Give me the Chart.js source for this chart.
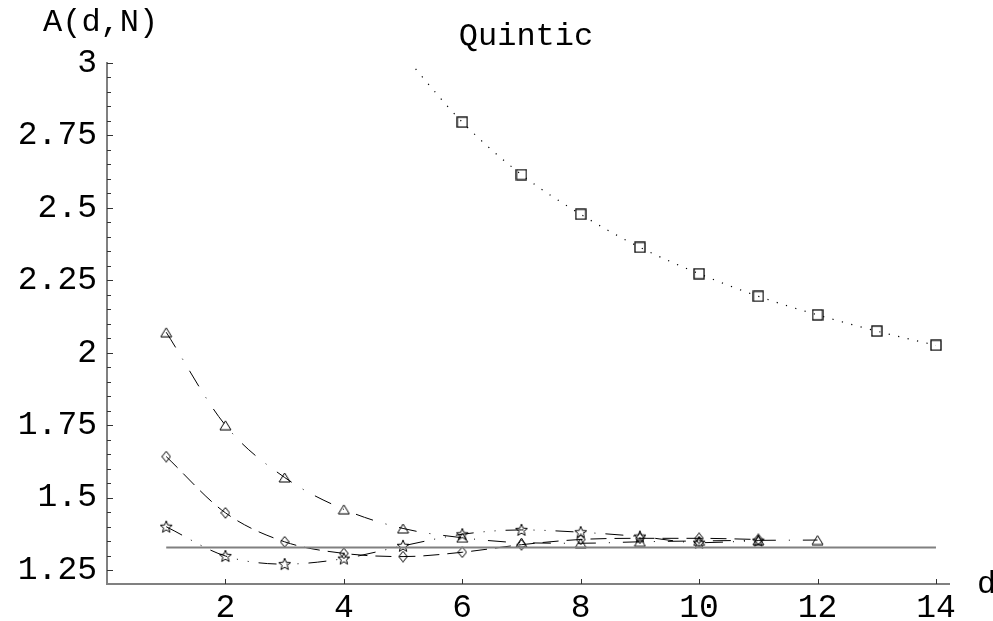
<!DOCTYPE html>
<html>
<head>
<meta charset="utf-8">
<script src="https://cdn.jsdelivr.net/npm/chart.js@4/dist/chart.umd.min.js"></script>
<style>
  html, body { margin: 0; padding: 0; background: #fff; }
  #wrap { width: 993px; height: 621px; }
</style>
</head>
<body>
<div id="wrap"><canvas id="c" width="993" height="621"></canvas></div>
<script>
// ---------------- data ----------------
const title = "Quintic";
const yAxisLabel = "A(d,N)";
const xAxisLabel = "d";

const triangleD = [1, 2, 3, 4, 5, 6, 7, 8, 9, 10, 11, 12];
const triangleA = [2.071, 1.750, 1.570, 1.460, 1.394, 1.362, 1.345, 1.343, 1.348, 1.351, 1.353, 1.354];

const diamondD = [1, 2, 3, 4, 5, 6, 7, 8, 9, 10, 11];
const diamondA = [1.642, 1.448, 1.348, 1.308, 1.297, 1.312, 1.338, 1.356, 1.360, 1.360, 1.356];

const starD = [1, 2, 3, 4, 5, 6, 7, 8, 9, 10, 11];
const starA = [1.400, 1.299, 1.271, 1.290, 1.334, 1.374, 1.389, 1.381, 1.366, 1.345, 1.352];

// first entry (d=5) is where the dotted fit curve leaves the top of the frame (no marker)
const squareD = [5, 6, 7, 8, 9, 10, 11, 12, 13, 14];
const squareA = [3.03, 2.796, 2.615, 2.478, 2.364, 2.273, 2.195, 2.131, 2.075, 2.026];

const limitD = [1, 14];
const limitA = [1.328, 1.328];

const xTickValues = [2, 4, 6, 8, 10, 12, 14];
const yTickValues = [1.25, 1.5, 1.75, 2, 2.25, 2.5, 2.75, 3];
const yTickLabels = ["1.25", "1.5", "1.75", "2", "2.25", "2.5", "2.75", "3"];
const yMinorStep = 0.05;
const xRange = [0, 14.22];
const yRange = [1.2024, 3];

// ---------------- markers ----------------
function marker(kind) {
  const c = document.createElement('canvas');
  const g = c.getContext('2d');
  g.strokeStyle = '#000';
  g.lineWidth = 1.1;
  if (kind === 'tri') {
    c.width = 13; c.height = 11;
    g.beginPath(); g.moveTo(6.5, 1); g.lineTo(12, 10); g.lineTo(1, 10); g.closePath(); g.stroke();
  } else if (kind === 'dia') {
    c.width = 10; c.height = 12;
    g.beginPath(); g.moveTo(5, 0.7); g.lineTo(9.3, 6); g.lineTo(5, 11.3); g.lineTo(0.7, 6); g.closePath(); g.stroke();
  } else if (kind === 'star') {
    c.width = 14; c.height = 14;
    g.beginPath();
    for (let i = 0; i < 10; i++) {
      const r = i % 2 === 0 ? 6.3 : 2.7;
      const a = -Math.PI / 2 + i * Math.PI / 5;
      const px = 7 + r * Math.cos(a), py = 7.4 + r * Math.sin(a);
      if (i === 0) g.moveTo(px, py); else g.lineTo(px, py);
    }
    g.closePath(); g.stroke();
  } else if (kind === 'sq') {
    c.width = 12; c.height = 12;
    g.lineWidth = 1.3;
    g.strokeRect(1, 1, 10, 10);
  }
  return c;
}
const triImg = marker('tri'), diaImg = marker('dia'), starImg = marker('star'), sqImg = marker('sq');

function pts(xs, ys) { return xs.map((x, i) => ({x: x, y: ys[i]})); }

const FONT = '"Liberation Mono", "Courier New", monospace';

const decorPlugin = {
  id: 'decor',
  afterDraw(chart) {
    const ctx = chart.ctx;
    const xs = chart.scales.x, ys = chart.scales.y;
    const a = chart.chartArea;
    ctx.save();
    // y ticks (major + minor), pointing into the plot
    ctx.strokeStyle = '#333';
    ctx.lineWidth = 1;
    for (let v = 1.25; v <= 3.0001; v += yMinorStep) {
      const isMajor = yTickValues.some(t => Math.abs(t - v) < 1e-6);
      const py = Math.round(ys.getPixelForValue(v)) + 0.5;
      ctx.beginPath();
      ctx.moveTo(a.left, py);
      ctx.lineTo(a.left + (isMajor ? 6 : 4), py);
      ctx.stroke();
    }
    // x ticks
    xTickValues.forEach(v => {
      const px = Math.round(xs.getPixelForValue(v)) + 0.5;
      ctx.beginPath();
      ctx.moveTo(px, a.bottom);
      ctx.lineTo(px, a.bottom - 5);
      ctx.stroke();
    });
    // texts
    ctx.fillStyle = '#000';
    ctx.font = '32px ' + FONT;
    ctx.textAlign = 'left';
    ctx.textBaseline = 'alphabetic';
    ctx.fillText(yAxisLabel, 43, 31);
    ctx.textAlign = 'center';
    ctx.fillText(title, 526, 45);
    ctx.textAlign = 'left';
    ctx.fillText(xAxisLabel, 977, 593);
    ctx.restore();
  }
};

new Chart(document.getElementById('c'), {
  type: 'line',
  data: {
    datasets: [
      {
        data: pts(limitD, limitA),
        borderColor: '#808080', borderWidth: 2, pointRadius: 0, fill: false
      },
      {
        data: pts(triangleD, triangleA),
        borderColor: '#000', borderWidth: 1, borderDash: [18, 13, 1, 13],
        cubicInterpolationMode: 'monotone',
        pointStyle: triImg, pointRadius: 5, fill: false
      },
      {
        data: pts(diamondD, diamondA),
        borderColor: '#000', borderWidth: 1, borderDash: [16, 8],
        cubicInterpolationMode: 'monotone',
        pointStyle: diaImg, pointRadius: 5, fill: false
      },
      {
        data: pts(starD, starA),
        borderColor: '#000', borderWidth: 1, borderDash: [18, 10, 1, 10, 1, 10],
        cubicInterpolationMode: 'monotone',
        pointStyle: starImg, pointRadius: 5, fill: false
      },
      {
        data: pts(squareD, squareA),
        borderColor: '#000', borderWidth: 1.2, borderDash: [1.2, 8.5],
        cubicInterpolationMode: 'monotone',
        pointStyle: sqImg,
        pointRadius: (c) => (c.dataIndex === 0 ? 0 : 5),
        fill: false
      }
    ]
  },
  options: {
    responsive: false,
    devicePixelRatio: 1,
    animation: false,
    events: [],
    layout: { padding: { top: 63, right: 44, bottom: 0, left: 0 } },
    plugins: { legend: { display: false }, tooltip: { enabled: false }, title: { display: false } },
    scales: {
      x: {
        type: 'linear', min: xRange[0], max: xRange[1],
        grid: { display: false, drawTicks: false },
        border: { display: true, color: '#808080', width: 2 },
        afterBuildTicks: (s) => { s.ticks = xTickValues.map(v => ({value: v})); },
        afterFit: (s) => { s.height = 37; },
        ticks: {
          color: '#000', padding: 4, maxRotation: 0, autoSkip: false,
          font: { family: FONT, size: 33 },
          callback: (v) => String(v)
        }
      },
      y: {
        type: 'linear', min: yRange[0], max: yRange[1],
        grid: { display: false, drawTicks: false },
        border: { display: true, color: '#808080', width: 2 },
        afterBuildTicks: (s) => { s.ticks = yTickValues.map(v => ({value: v})); },
        afterFit: (s) => { s.width = 107; },
        ticks: {
          color: '#000', padding: 10, autoSkip: false,
          font: { family: FONT, size: 33 },
          callback: (v) => { const i = yTickValues.findIndex(t => Math.abs(t - v) < 1e-6); return i >= 0 ? yTickLabels[i] : ''; }
        }
      }
    }
  },
  plugins: [decorPlugin]
});
</script>
</body>
</html>
